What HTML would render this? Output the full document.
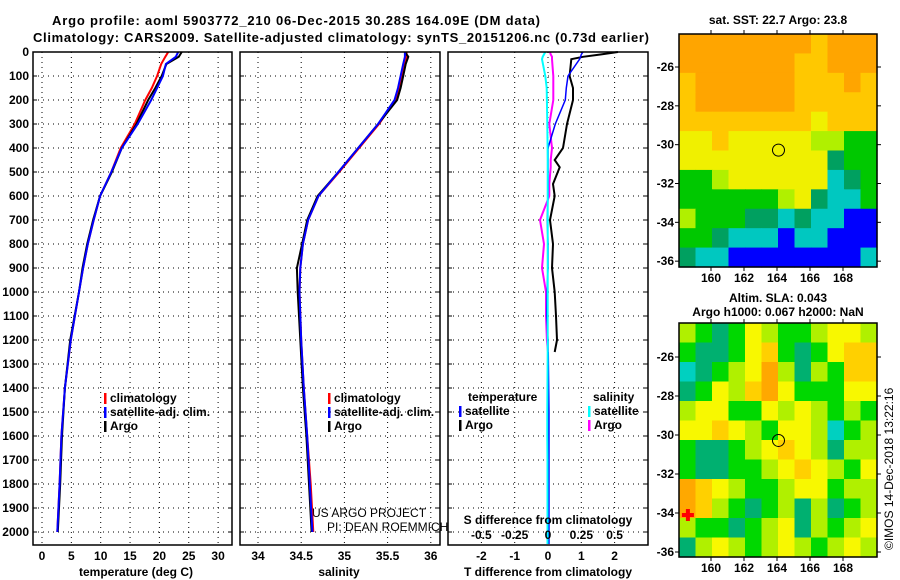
<!DOCTYPE html>
<html><head><meta charset="utf-8">
<style>
body{margin:0;background:#fff;}
svg{display:block;font-family:"Liberation Sans",sans-serif;font-weight:bold;}
text{fill:#000;}
</style></head>
<body>
<svg id="c" width="900" height="580" viewBox="0 0 900 580">
<text x="296" y="25" font-size="13" text-anchor="middle" textLength="488">Argo profile: aoml 5903772_210 06-Dec-2015 30.28S 164.09E (DM data)</text>
<text x="341" y="42" font-size="13" text-anchor="middle" textLength="616">Climatology: CARS2009. Satellite-adjusted climatology: synTS_20151206.nc (0.73d earlier)</text>
<text x="778" y="24" font-size="12" text-anchor="middle">sat. SST: 22.7 Argo: 23.8</text>
<text x="778" y="302" font-size="12" text-anchor="middle">Altim. SLA: 0.043</text>
<text x="778" y="316" font-size="12" text-anchor="middle">Argo h1000: 0.067 h2000: NaN</text>
<text x="0" y="0" font-size="12" font-weight="normal" transform="translate(893,550) rotate(-90)">©IMOS 14-Dec-2018 13:22:16</text>
<text x="312" y="517" font-size="12" font-weight="normal">US ARGO PROJECT</text>
<text x="327" y="531" font-size="12" font-weight="normal">PI: DEAN ROEMMICH</text>
</svg>
<script>
// ---- profile data ----
const depths = [0,20,50,100,150,200,300,400,500,600,700,800,900,1000,1200,1400,1600,1800,2000];
const tempArgo = [23.8,23.3,21.2,20.4,19.3,18.1,16.1,13.6,11.9,9.9,8.7,7.7,6.9,6.3,4.8,3.9,3.4,3.1,2.7];
const tempClim = [21.5,21.0,20.3,19.6,18.7,17.6,15.8,13.4,11.8,9.9,8.8,7.8,7.0,6.3,4.9,3.9,3.3,3.0,2.6];
const tempSat  = [23.2,22.8,21.1,20.6,19.6,18.6,16.3,13.6,11.8,9.9,8.8,7.8,7.0,6.3,4.9,3.9,3.3,3.0,2.6];
const salArgo = [35.70,35.74,35.71,35.68,35.65,35.61,35.39,35.16,34.93,34.69,34.57,34.51,34.45,34.46,34.49,34.52,34.56,34.59,34.62];
const salClim = [35.72,35.72,35.70,35.67,35.64,35.59,35.40,35.17,34.94,34.70,34.58,34.52,34.49,34.48,34.50,34.53,34.57,34.61,34.64];
const salSat  = [35.70,35.70,35.68,35.65,35.62,35.58,35.39,35.16,34.93,34.70,34.58,34.52,34.49,34.48,34.50,34.53,34.57,34.60,34.63];
const diffDepths = [0,10,20,30,100,150,200,300,400,450,480,550,600,700,800,900,1000,1100,1200,1250];
const tDiffArgo = [2.1,1.6,1.05,0.7,0.65,0.75,0.75,0.57,0.45,0.2,0.35,0.15,0.2,0.06,0.15,0.12,0.2,0.24,0.27,0.2];
const tDiffSat  = [1.05,1.0,0.98,0.95,0.6,0.55,0.52,0.22,0.0,0.0,0.0,0.0,0.0,-0.02,0.0,0.0,-0.03,-0.04,0.0,0.0];
const sDiffArgo = [0.015,0.02,0.03,0.03,0.04,0.04,0.04,0.01,0.03,0.02,0.02,0.01,0.01,-0.06,-0.03,-0.045,-0.015,-0.015,-0.008,0.0];
const sDiffSat  = [-0.02,-0.03,-0.04,-0.045,-0.02,-0.01,-0.008,-0.005,-0.003,-0.002,-0.002,-0.002,-0.002,-0.002,-0.002,-0.002,-0.002,-0.002,-0.002,-0.002];
const depthTicks = [0,100,200,300,400,500,600,700,800,900,1000,1100,1200,1300,1400,1500,1600,1700,1800,1900,2000];
const tempTicks = [0,5,10,15,20,25,30];
const salTicks = [34,34.5,35,35.5,36];
const salTickLabels = ["34","34.5","35","35.5","36"];
const tDiffTicks = [-2,-1,0,1,2];
const sDiffTicks = [-0.5,-0.25,0,0.25,0.5];
const sDiffTickLabels = ["-0.5","-0.25","0","0.25","0.5"];
// ---- map data (12 cols lon 158-170, 12 rows lat -24.3 to -36.3) ----
const sstGrid = [
"111111112111","111111122111","211111122212","211111122222",
"222222223222","332333334455","333333333655","554333333765",
"555555436775","455566767788","556777877888","677888888887"];
const slaGrid = [
"456534554334","566532565322","765431464522","653421355533",
"433553434545","332345334754","566543234644","566554323453",
"123455433544","124565464654","455654364543","643454345434"];
const sstColors = ["#ff0000","#ffa500","#ffc800","#f0f000","#b0f000","#00c800","#00a060","#00c8c0","#0000ff"];
const slaColors = ["#ff0000","#ffa800","#ffd000","#f8f800","#b0f000","#00d800","#00b070","#00d0c0"];

const svg = document.getElementById('c');
const NS = 'http://www.w3.org/2000/svg';
function mk(tag, attrs, parent){const e=document.createElementNS(NS,tag);for(const k in attrs)e.setAttribute(k,attrs[k]);(parent||svg).appendChild(e);return e;}
const yD = d => 52 + d*0.24;
const xT = t => 42 + t*5.87;
const xS = s => 258 + (s-34)*86.4;
const xTD = t => 548 + t*33.3;
const xSD = s => 548 + s*133.3;
const PB = 545;

function panel(x0,x1,name){
  const g = mk('g',{});
  
  
  return g;
}
function grid(g,x0,x1,vx){
  depthTicks.forEach(d=>{ if(d===0)return;
    const l=mk('line',{x1:x0,x2:x1,y1:yD(d),y2:yD(d),stroke:'#000','stroke-width':1,'stroke-dasharray':'1,4'},g);
    
    
    mk('line',{x1:x0,x2:x0+4,y1:yD(d),y2:yD(d),stroke:'#000'},g);
    mk('line',{x1:x1-4,x2:x1,y1:yD(d),y2:yD(d),stroke:'#000'},g);
  });
  vx.forEach(x=>{
    const l=mk('line',{x1:x,x2:x,y1:52,y2:PB,stroke:'#000','stroke-width':1,'stroke-dasharray':'1,4'},g);
    
    
  });
}
function frame(g,x0,x1){
  const r=mk('rect',{x:x0,y:52,width:x1-x0,height:PB-52,fill:'none',stroke:'#000','stroke-width':1.5},g);
  
  
}
function line(g,xs,ds,fx,color,w,name){
  const pts=xs.map((v,i)=>fx(v).toFixed(1)+','+yD(ds[i]).toFixed(1)).join(' ');
  const p=mk('polyline',{points:pts,fill:'none',stroke:color,'stroke-width':w,'stroke-linejoin':'miter'},g);
  
  
}
function xlabels(g,vals,labels,fx,y){
  vals.forEach((v,i)=>{
    const t=mk('text',{x:fx(v),y:y,'font-size':12,'text-anchor':'middle'},g);
    t.textContent=labels?labels[i]:String(v);
    
    
  });
}
function legend(g,x,y,items){
  items.forEach((it,i)=>{
    const r=mk('rect',{x:x,y:y+i*14-9,width:2.5,height:11,fill:it[1]},g);
    
    
    const t=mk('text',{x:x+6,y:y+i*14,'font-size':12},g);
    t.textContent=it[0];
    
    
  });
}

// Panel 1 temperature
const p1=panel(33,232,'temperature-panel');
grid(p1,33,232,tempTicks.map(xT));
line(p1,tempClim,depths,xT,'#ff0000',2,'temp-climatology-line');
line(p1,tempArgo,depths,xT,'#000000',2,'temp-argo-line');
line(p1,tempSat,depths,xT,'#0000ff',2,'temp-satellite-line');
frame(p1,33,232);
depthTicks.forEach(d=>{
  const t=mk('text',{x:29,y:yD(d)+4,'font-size':12,'text-anchor':'end'},p1);
  t.textContent=String(d);
  
  
});
xlabels(p1,tempTicks,null,xT,560);
{const t=mk('text',{x:136,y:576,'font-size':12,'text-anchor':'middle'},p1);t.textContent='temperature (deg C)';

}
legend(p1,104,402,[['climatology','#ff0000'],['satellite-adj. clim.','#0000ff'],['Argo','#000']]);

// Panel 2 salinity
const p2=panel(240,440,'salinity-panel');
grid(p2,240,440,salTicks.map(xS));
line(p2,salClim,depths,xS,'#ff0000',2,'sal-climatology-line');
line(p2,salArgo,depths,xS,'#000000',2,'sal-argo-line');
line(p2,salSat,depths,xS,'#0000ff',2,'sal-satellite-line');
frame(p2,240,440);
xlabels(p2,salTicks,salTickLabels,xS,560);
{const t=mk('text',{x:339,y:576,'font-size':12,'text-anchor':'middle'},p2);t.textContent='salinity';

}
legend(p2,328,402,[['climatology','#ff0000'],['satellite-adj. clim.','#0000ff'],['Argo','#000']]);

// Panel 3 differences
const p3=panel(448,648,'difference-panel');
grid(p3,448,648,tDiffTicks.map(xTD));
line(p3,tDiffArgo,diffDepths,xTD,'#000000',2,'tdiff-argo-line');
line(p3,sDiffArgo,diffDepths,xSD,'#ff00ff',2,'sdiff-argo-line');
line(p3,tDiffSat,diffDepths,xTD,'#0000ff',1.5,'tdiff-satellite-line');
{const extD=[1250,1500,1600,1700,2050];const extT=[0,0.02,0.02,0.02,0.02];const extS=[-0.002,-0.005,-0.005,-0.004,-0.004];
line(p3,extT,extD,xTD,'#0000ff',2,'tdiff-satellite-deep');
line(p3,sDiffSat,diffDepths,xSD,'#00ffff',2,'sdiff-satellite-line');
line(p3,extS,extD,xSD,'#00ffff',2,'sdiff-satellite-deep');}
frame(p3,448,648);
xlabels(p3,tDiffTicks,null,xTD,560);
xlabels(p3,sDiffTicks,sDiffTickLabels,xSD,539);
{const t=mk('text',{x:548,y:524,'font-size':12,'text-anchor':'middle'},p3);t.textContent='S difference from climatology';

}
{const t=mk('text',{x:548,y:576,'font-size':12,'text-anchor':'middle'},p3);t.textContent='T difference from climatology';

}
{const t=mk('text',{x:468,y:401,'font-size':12},p3);t.textContent='temperature';


const t2=mk('text',{x:593,y:401,'font-size':12},p3);t2.textContent='salinity';

}
legend(p3,459,415,[['satellite','#0000ff'],['Argo','#000']]);
legend(p3,588,415,[['satellite','#00ffff'],['Argo','#ff00ff']]);

// Maps
const lonX = lon => 679 + (lon-158.06)*16.5;
const lonTicks=[160,162,164,166,168];
const latTicks=[-26,-28,-30,-32,-34,-36];
function map(y0,y1,gridData,colors,name,latTopY){
  const g=mk('g',{});
  
  
  const x0=679,x1=877;
  const latY = lat => latTopY + (-26-lat)*((y1-y0)/12.0);
  const cw=(x1-x0)/12, ch=(y1-y0)/12;
  gridData.forEach((row,r)=>{
    for(let c=0;c<row.length;c++){
      const cell=mk('rect',{x:(x0+c*cw).toFixed(2),y:(y0+r*ch).toFixed(2),width:(cw+0.6).toFixed(2),height:(ch+0.6).toFixed(2),fill:colors[+row[c]]},g);
      
      
    }
  });
  const fr=mk('rect',{x:x0,y:y0,width:x1-x0,height:y1-y0,fill:'none',stroke:'#000','stroke-width':1.5},g);
  
  
  lonTicks.forEach(l=>{
    mk('line',{x1:lonX(l),x2:lonX(l),y1:y0-4,y2:y0,stroke:'#000'},g);
    mk('line',{x1:lonX(l),x2:lonX(l),y1:y1,y2:y1+4,stroke:'#000'},g);
    const t=mk('text',{x:lonX(l),y:y1+15,'font-size':12,'text-anchor':'middle'},g);
    t.textContent=String(l);
    
    
  });
  latTicks.forEach(l=>{
    const y=latY(l);
    mk('line',{x1:x1,x2:x1+4,y1:y,y2:y,stroke:'#000'},g);
    mk('line',{x1:x0-4,x2:x0,y1:y,y2:y,stroke:'#000'},g);
    const t=mk('text',{x:x0-5,y:y+4,'font-size':12,'text-anchor':'end'},g);
    t.textContent=String(l);
    
    
  });
  const ci=mk('circle',{cx:lonX(164.09),cy:latY(-30.28),r:6,fill:'none',stroke:'#000','stroke-width':1},g);
  
  
  return {g,latY};
}
const m1=map(34,267,sstGrid,sstColors,'sst-map',67);
const m2=map(323,557,slaGrid,slaColors,'sla-map',357);
{const cx=lonX(158.6),cy=m2.latY(-34.1);
const cr=mk('path',{d:`M${cx-6},${cy-2}h12v4h-12z M${cx-2},${cy-6}h4v12h-4z`,fill:'#ff0000'},m2.g);

}
</script>
</body></html>
